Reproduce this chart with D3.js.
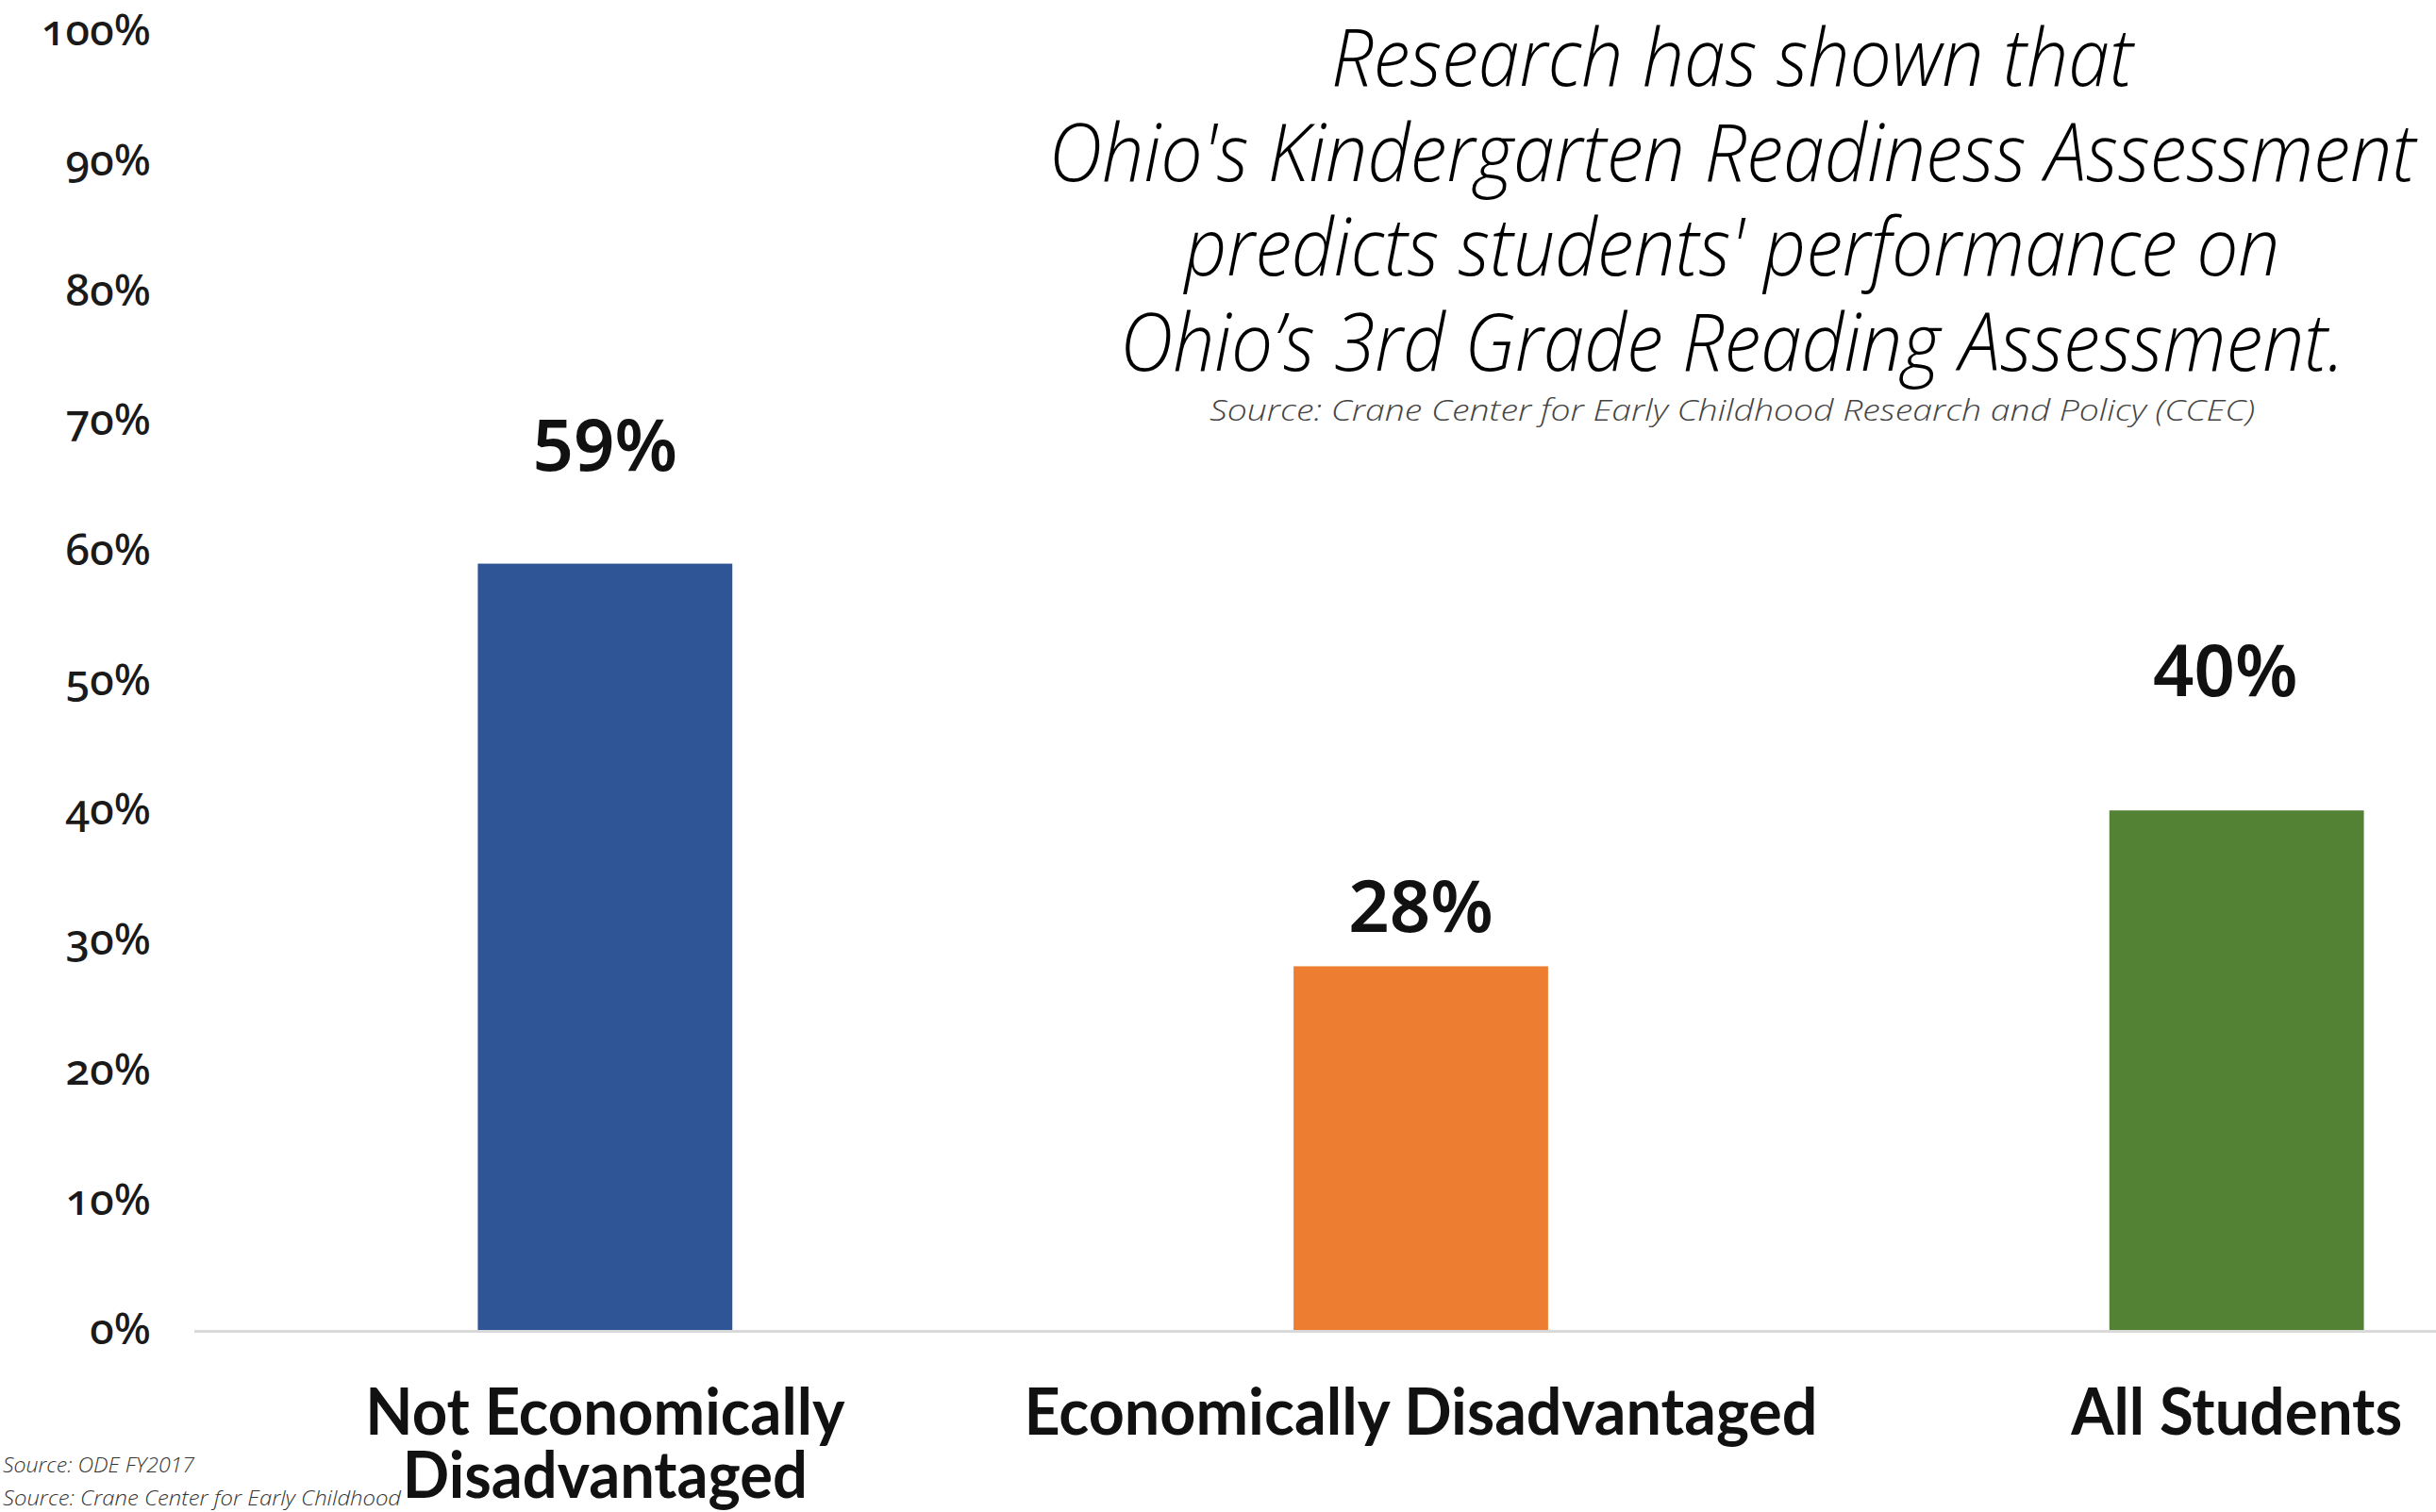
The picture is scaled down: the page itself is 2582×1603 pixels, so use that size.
<!DOCTYPE html>
<meta charset="utf-8">
<style>

body {
  margin: 0;
  background: #fff;
}

.axis path {
  display: none;
}

.axis text {
  font-family: "Noto Sans", sans-serif;
  font-weight: 500;
  font-size: 46px;
  font-variant-numeric: oldstyle-nums;
  fill: #1a1a1a;
}

.baseline {
  stroke: #d9d9d9;
  stroke-width: 3px;
  shape-rendering: crispEdges;
}

.value {
  font-family: "Noto Sans", sans-serif;
  font-weight: 600;
  font-size: 76px;
  fill: #111;
  text-anchor: middle;
}

.category {
  font-family: Lato, sans-serif;
  font-weight: 700;
  font-size: 68px;
  fill: #111;
  text-anchor: middle;
}

.title {
  font-family: "Open Sans", sans-serif;
  font-style: italic;
  font-weight: 300;
  font-size: 84px;
  fill: #000;
  text-anchor: middle;
}

.subtitle {
  font-family: "Open Sans", sans-serif;
  font-style: italic;
  font-weight: 300;
  font-size: 32px;
  fill: #444;
  text-anchor: middle;
}

.footnote {
  font-family: "Open Sans", sans-serif;
  font-style: italic;
  font-weight: 300;
  font-size: 22px;
  fill: #333;
}

</style>
<svg width="2582" height="1603"></svg>
<script src="https://d3js.org/d3.v7.min.js"></script>
<script>

// chart data
var categories = ["Not Economically Disadvantaged", "Economically Disadvantaged", "All Students"];
var categoryLines = [["Not Economically", "Disadvantaged"], ["Economically Disadvantaged"], ["All Students"]];
var values = [59, 28, 40];
var colors = ["#2f5597", "#ed7d31", "#548235"];
var yTicks = [0, 10, 20, 30, 40, 50, 60, 70, 80, 90, 100];

var titleLines = [
  "Research has shown that",
  "Ohio's Kindergarten Readiness Assessment",
  "predicts students' performance on",
  "Ohio\u2019s 3rd Grade Reading Assessment."
];
var subtitle = "Source: Crane Center for Early Childhood Research and Policy (CCEC)";
var footnotes = ["Source: ODE FY2017", " Source: Crane Center for Early Childhood"];

// layout tweaks
var labelLift = [99, 36, 121];
var labelShift = [0, 0, -12];
var titleWidths = [850, 1449, 1161, 1298];
var categoryWidths = [[508, 429], [841], [351]];

var svg = d3.select("svg"),
    width = +svg.attr("width"),
    height = +svg.attr("height");

var y = d3.scaleLinear()
    .domain([0, 100])
    .range([1410, 33]);

var x = d3.scaleBand()
    .domain(categories)
    .range([209, 2803])
    .paddingInner(0.688)
    .paddingOuter(0.344);

var yAxis = d3.axisLeft(y)
    .tickValues(yTicks)
    .tickSize(0)
    .tickPadding(46)
    .tickFormat(function(d) { return d + "%"; });

svg.append("g")
    .attr("class", "axis")
    .attr("transform", "translate(206,0)")
    .call(yAxis);

svg.selectAll(".bar")
    .data(values)
  .enter().append("rect")
    .attr("class", "bar")
    .attr("x", function(d, i) { return x(categories[i]); })
    .attr("y", function(d) { return y(d); })
    .attr("width", x.bandwidth())
    .attr("height", function(d) { return y(0) - y(d); })
    .attr("fill", function(d, i) { return colors[i]; });

svg.append("line")
    .attr("class", "baseline")
    .attr("x1", 206)
    .attr("x2", width)
    .attr("y1", y(0) + 1)
    .attr("y2", y(0) + 1);

svg.selectAll(".value")
    .data(values)
  .enter().append("text")
    .attr("class", "value")
    .attr("x", function(d, i) { return x(categories[i]) + x.bandwidth() / 2 + labelShift[i]; })
    .attr("y", function(d, i) { return y(d) - labelLift[i]; })
    .text(function(d) { return d + "%"; });

var cat = svg.selectAll(".category")
    .data(categories)
  .enter().append("text")
    .attr("class", "category");

cat.each(function(c, i) {
  var cx = x(c) + x.bandwidth() / 2;
  d3.select(this).selectAll("tspan")
      .data(categoryLines[i])
    .enter().append("tspan")
      .attr("x", cx)
      .attr("y", function(d, j) { return 1521 + j * 67; })
      .attr("textLength", function(d, j) { return categoryWidths[i][j]; })
      .attr("lengthAdjust", "spacingAndGlyphs")
      .text(function(d) { return d; });
});

svg.selectAll(".title")
    .data(titleLines)
  .enter().append("text")
    .attr("class", "title")
    .attr("x", 1836)
    .attr("y", function(d, i) { return 91 + i * 100.5; })
    .attr("textLength", function(d, i) { return titleWidths[i]; })
    .attr("lengthAdjust", "spacingAndGlyphs")
    .text(function(d) { return d; });

svg.append("text")
    .attr("class", "subtitle")
    .attr("x", 1836)
    .attr("y", 446)
    .attr("textLength", 1108)
    .attr("lengthAdjust", "spacingAndGlyphs")
    .text(subtitle);

svg.selectAll(".footnote")
    .data(footnotes)
  .enter().append("text")
    .attr("class", "footnote")
    .attr("x", 3)
    .attr("y", function(d, i) { return 1561 + i * 35; })
    .attr("textLength", function(d, i) { return i ? 422 : 203; })
    .attr("lengthAdjust", "spacingAndGlyphs")
    .text(function(d) { return d; });

</script>
